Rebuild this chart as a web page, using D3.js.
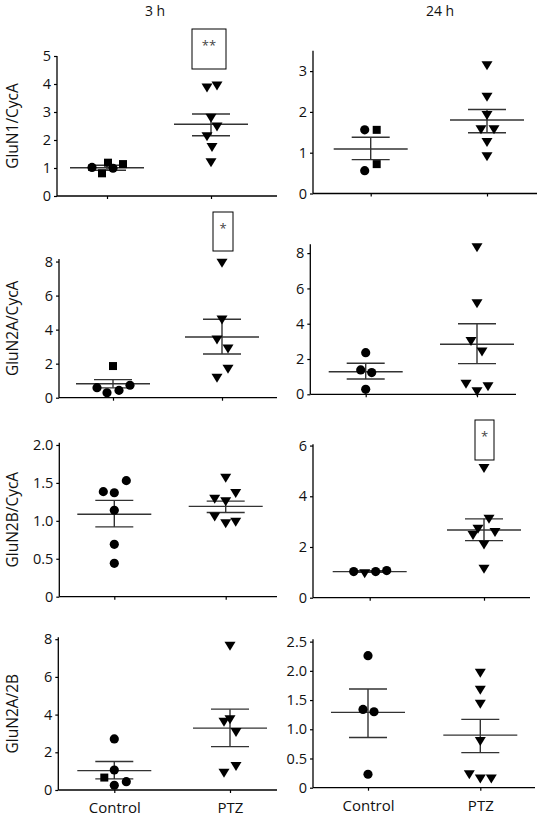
<!DOCTYPE html>
<html><head><meta charset="utf-8">
<script src="https://cdn.jsdelivr.net/npm/d3@7"></script>
<style>
html,body{margin:0;padding:0;background:#fff;}
svg{display:block;font-family:"Open Sans","Noto Sans",sans-serif;}
</style>
</head><body>
<svg id="chart" width="537" height="820"></svg>
<script>
// ---------- data ----------
const groups = ["Control", "PTZ"];
const times = ["3 h", "24 h"];
const measures = ["GluN1/CycA", "GluN2A/CycA", "GluN2B/CycA", "GluN2A/2B"];

const glun1_3h_ctrl = [1.02, 1.19, 0.81, 0.99, 1.14];
const glun1_3h_ptz = [3.86, 3.93, 2.78, 2.46, 2.12, 1.73, 1.19];
const glun1_24h_ctrl = [1.56, 1.56, 0.72, 0.56];
const glun1_24h_ptz = [3.13, 2.36, 1.91, 1.56, 1.56, 1.25, 0.90];
const glun2a_3h_ctrl = [1.86, 0.59, 0.29, 0.43, 0.73];
const glun2a_3h_ptz = [7.9, 4.57, 3.39, 2.86, 1.67, 1.14];
const glun2a_24h_ctrl = [2.36, 1.38, 1.23, 0.28];
const glun2a_24h_ptz = [8.3, 5.13, 2.99, 2.39, 0.57, 0.15, 0.43];
const glun2b_3h_ctrl = [1.385, 1.37, 1.53, 1.14, 0.69, 0.44];
const glun2b_3h_ptz = [1.56, 1.285, 1.25, 1.36, 1.05, 0.96, 0.98];
const glun2b_24h_ctrl = [1.03, 0.94, 1.03, 1.07];
const glun2b_24h_ptz = [5.1, 3.09, 2.7, 2.45, 2.57, 2.08, 1.12];
const ratio_3h_ctrl = [2.71, 1.06, 0.66, 0.25, 0.44];
const ratio_3h_ptz = [7.62, 3.6, 3.72, 3.05, 0.89, 1.24];
const ratio_24h_ctrl = [2.26, 1.34, 1.30, 0.23];
const ratio_24h_ptz = [1.96, 1.67, 1.43, 0.79, 0.22, 0.15, 0.15];

// mean and SEM bounds per panel: [Control, PTZ]
const means = [[1.01, 2.56], [1.09, 1.80], [0.82, 3.57], [1.28, 2.84], [1.087, 1.19], [1.03, 2.67], [1.03, 3.28], [1.29, 0.90]];
const semHigh = [[1.10, 2.93], [1.38, 2.06], [1.06, 4.61], [1.76, 4.0], [1.27, 1.26], [1.06, 3.11], [1.51, 4.29], [1.69, 1.17]];
const semLow = [[0.92, 2.15], [0.83, 1.49], [0.58, 2.57], [0.87, 1.74], [0.92, 1.11], [1.00, 2.25], [0.59, 2.30], [0.86, 0.60]];

const yTicks = [[0,1,2,3,4,5], [0,1,2,3], [0,2,4,6,8], [0,2,4,6,8], [0,0.5,1,1.5,2], [0,2,4,6], [0,2,4,6,8], [0,0.5,1,1.5,2,2.5]];
const yMax = [5, 3.5, 8.15, 8.5, 2.03, 6.05, 8.1, 2.54];
const sigLabels = ["**", "", "*", "", "", "*", "", ""];

const panelData = [
  [glun1_3h_ctrl, glun1_3h_ptz], [glun1_24h_ctrl, glun1_24h_ptz],
  [glun2a_3h_ctrl, glun2a_3h_ptz], [glun2a_24h_ctrl, glun2a_24h_ptz],
  [glun2b_3h_ctrl, glun2b_3h_ptz], [glun2b_24h_ctrl, glun2b_24h_ptz],
  [ratio_3h_ctrl, ratio_3h_ptz], [ratio_24h_ctrl, ratio_24h_ptz]
];

// ---------- layout (pixels) ----------
const layout = [
  {ax: 57, y0: 196, yTop: 56, c1: 107, c2: 211, xEnd: 277},
  {ax: 313, y0: 193.5, yTop: 50.7, c1: 370.7, c2: 487, xEnd: 537},
  {ax: 59, y0: 397.7, yTop: 259, c1: 113, c2: 222, xEnd: 277},
  {ax: 310.3, y0: 394.3, yTop: 244.3, c1: 365.7, c2: 477, xEnd: 516},
  {ax: 59.3, y0: 596.7, yTop: 442.7, c1: 114.3, c2: 225.7, xEnd: 277},
  {ax: 313, y0: 597.7, yTop: 444.3, c1: 369.7, c2: 484, xEnd: 530},
  {ax: 58.3, y0: 790, yTop: 637.3, c1: 114.3, c2: 230, xEnd: 277},
  {ax: 313, y0: 787.7, yTop: 639.3, c1: 368, c2: 480.3, xEnd: 535}
];
const jitter = [
  [[-15, 1, -5, 6, 16], [-4, 6, 0, 6, -4, 1, 0]],
  [[-6, 6, 6, -6], [0, 0, 0, -6, 7, 0, 0]],
  [[0, -16, -6, 6, 17], [0, 0, -5, 6, 6, -5]],
  [[0, -5, 6, 0], [0, 0, -6, 5, -11, 0, 11]],
  [[-11, 0, 12, 0, 0, 0], [0, -11, 0, 10, -11, 0, 10]],
  [[-16, -5, 6, 17], [0, 5, -6, -11, 11, 0, 0]],
  [[0, 0, -10, 0, 12], [0, -6, 0, 6, -6, 6]],
  [[0, -5, 6, 0], [0, 0, 0, 0, -11, 0, 11]]
];
const ctrlShapes = [
  ["c","s","s","c","s"], ["c","s","s","c"], ["s","c","c","c","c"], ["c","c","c","c"],
  ["c","c","c","c","c","c"], ["c","t","c","c"], ["c","c","s","c","c"], ["c","c","c","c"]
];
const sigBoxes = [{x:192,y:29,w:34,h:40}, null, {x:213,y:212,w:20,h:39}, null, null, {x:475,y:420,w:19,h:40}, null, null];
const titleX = [155, 440];
const ylabelX = 13;
const FONT = "Open Sans, Noto Sans, sans-serif";

const svg = d3.select("#chart");
const lineCol = "#333";

// column titles
times.forEach((t, i) => {
  svg.append("text").attr("x", titleX[i]).attr("y", 16).attr("text-anchor", "middle")
    .attr("font-size", 14).attr("fill", "#111").text(t);
});

const symTri = {draw(ctx, size){ const w = 5.5, h = 9; ctx.moveTo(-w, -h/2); ctx.lineTo(w, -h/2); ctx.lineTo(0, h/2); ctx.closePath(); }};

panelData.forEach((pd, p) => {
  const L = layout[p];
  const g = svg.append("g");
  const y = d3.scaleLinear().domain([0, yMax[p]]).range([L.y0, L.yTop]);
  const x = d3.scalePoint().domain(groups).range([L.c1, L.c2]).padding(0);

  // y axis
  const decimals = yTicks[p].some(v => v % 1 !== 0);
  const yAxis = d3.axisLeft(y).tickValues(yTicks[p]).tickSize(3).tickSizeOuter(0)
    .tickFormat(d => d === 0 ? "0" : (decimals ? d.toFixed(1) : String(d)));
  const ya = g.append("g").attr("transform", `translate(${L.ax},0)`).call(yAxis);
  ya.select(".domain").remove();
  ya.selectAll(".tick line").attr("stroke", "#000").attr("stroke-width", 1.2);
  ya.selectAll(".tick text").attr("font-size", 14.5).attr("font-family", FONT).attr("fill", "#111").attr("x", -6);
  g.append("line").attr("x1", L.ax).attr("x2", L.ax).attr("y1", y(yMax[p])).attr("y2", L.y0)
    .attr("stroke", "#000").attr("stroke-width", 1.3);

  // x axis
  const xAxis = d3.axisBottom(x).tickSize(3).tickSizeOuter(0);
  const xa = g.append("g").attr("transform", `translate(0,${L.y0})`).call(xAxis);
  xa.select(".domain").remove();
  xa.selectAll(".tick line").attr("stroke", "#000").attr("stroke-width", 1.2);
  if (p >= 6) {
    xa.selectAll(".tick text").attr("font-size", 15).attr("font-family", FONT).attr("fill", "#111").attr("dy", "1.15em");
  } else {
    xa.selectAll(".tick text").remove();
  }
  g.append("line").attr("x1", L.ax).attr("x2", L.xEnd).attr("y1", L.y0).attr("y2", L.y0)
    .attr("stroke", "#000").attr("stroke-width", 1.3);

  // y label (left column only)
  if (p % 2 === 0) {
    const cy = (L.y0 + y(yMax[p])) / 2;
    g.append("text").attr("transform", `translate(${ylabelX},${cy}) rotate(-90)`)
      .attr("text-anchor", "middle").attr("dy", "0.35em").attr("font-size", 15.5).attr("fill", "#111")
      .text(measures[Math.floor(p / 2)]);
  }

  // mean & SEM
  groups.forEach((grp, gi) => {
    const cx = x(grp);
    const m = means[p][gi], hi = semHigh[p][gi], lo = semLow[p][gi];
    g.append("line").attr("x1", cx).attr("x2", cx).attr("y1", y(hi)).attr("y2", y(lo)).attr("stroke", lineCol).attr("stroke-width", 1.4);
    g.append("line").attr("x1", cx - 19).attr("x2", cx + 19).attr("y1", y(hi)).attr("y2", y(hi)).attr("stroke", lineCol).attr("stroke-width", 1.4);
    g.append("line").attr("x1", cx - 19).attr("x2", cx + 19).attr("y1", y(lo)).attr("y2", y(lo)).attr("stroke", lineCol).attr("stroke-width", 1.4);
    g.append("line").attr("x1", cx - 37).attr("x2", cx + 37).attr("y1", y(m)).attr("y2", y(m)).attr("stroke", lineCol).attr("stroke-width", 1.4);
  });

  // points
  pd.forEach((vals, gi) => {
    const cx = x(groups[gi]);
    vals.forEach((v, i) => {
      const px = cx + jitter[p][gi][i], py = y(v);
      const shape = gi === 0 ? ctrlShapes[p][i] : "t";
      let sym;
      if (shape === "c") sym = d3.symbol(d3.symbolCircle, 66);
      else if (shape === "s") sym = d3.symbol(d3.symbolSquare, 64);
      else sym = d3.symbol(symTri);
      g.append("path").attr("d", sym()).attr("transform", `translate(${px},${py})`).attr("fill", "#000");
    });
  });

  // significance box
  if (sigLabels[p]) {
    const b = sigBoxes[p];
    g.append("rect").attr("x", b.x).attr("y", b.y).attr("width", b.w).attr("height", b.h)
      .attr("fill", "#fff").attr("stroke", "#000").attr("stroke-width", 1);
    g.append("text").attr("x", b.x + b.w / 2).attr("y", b.y + 21).attr("text-anchor", "middle")
      .attr("font-size", 13).attr("fill", "#444").text(sigLabels[p]);
  }
});
</script>
</body></html>
